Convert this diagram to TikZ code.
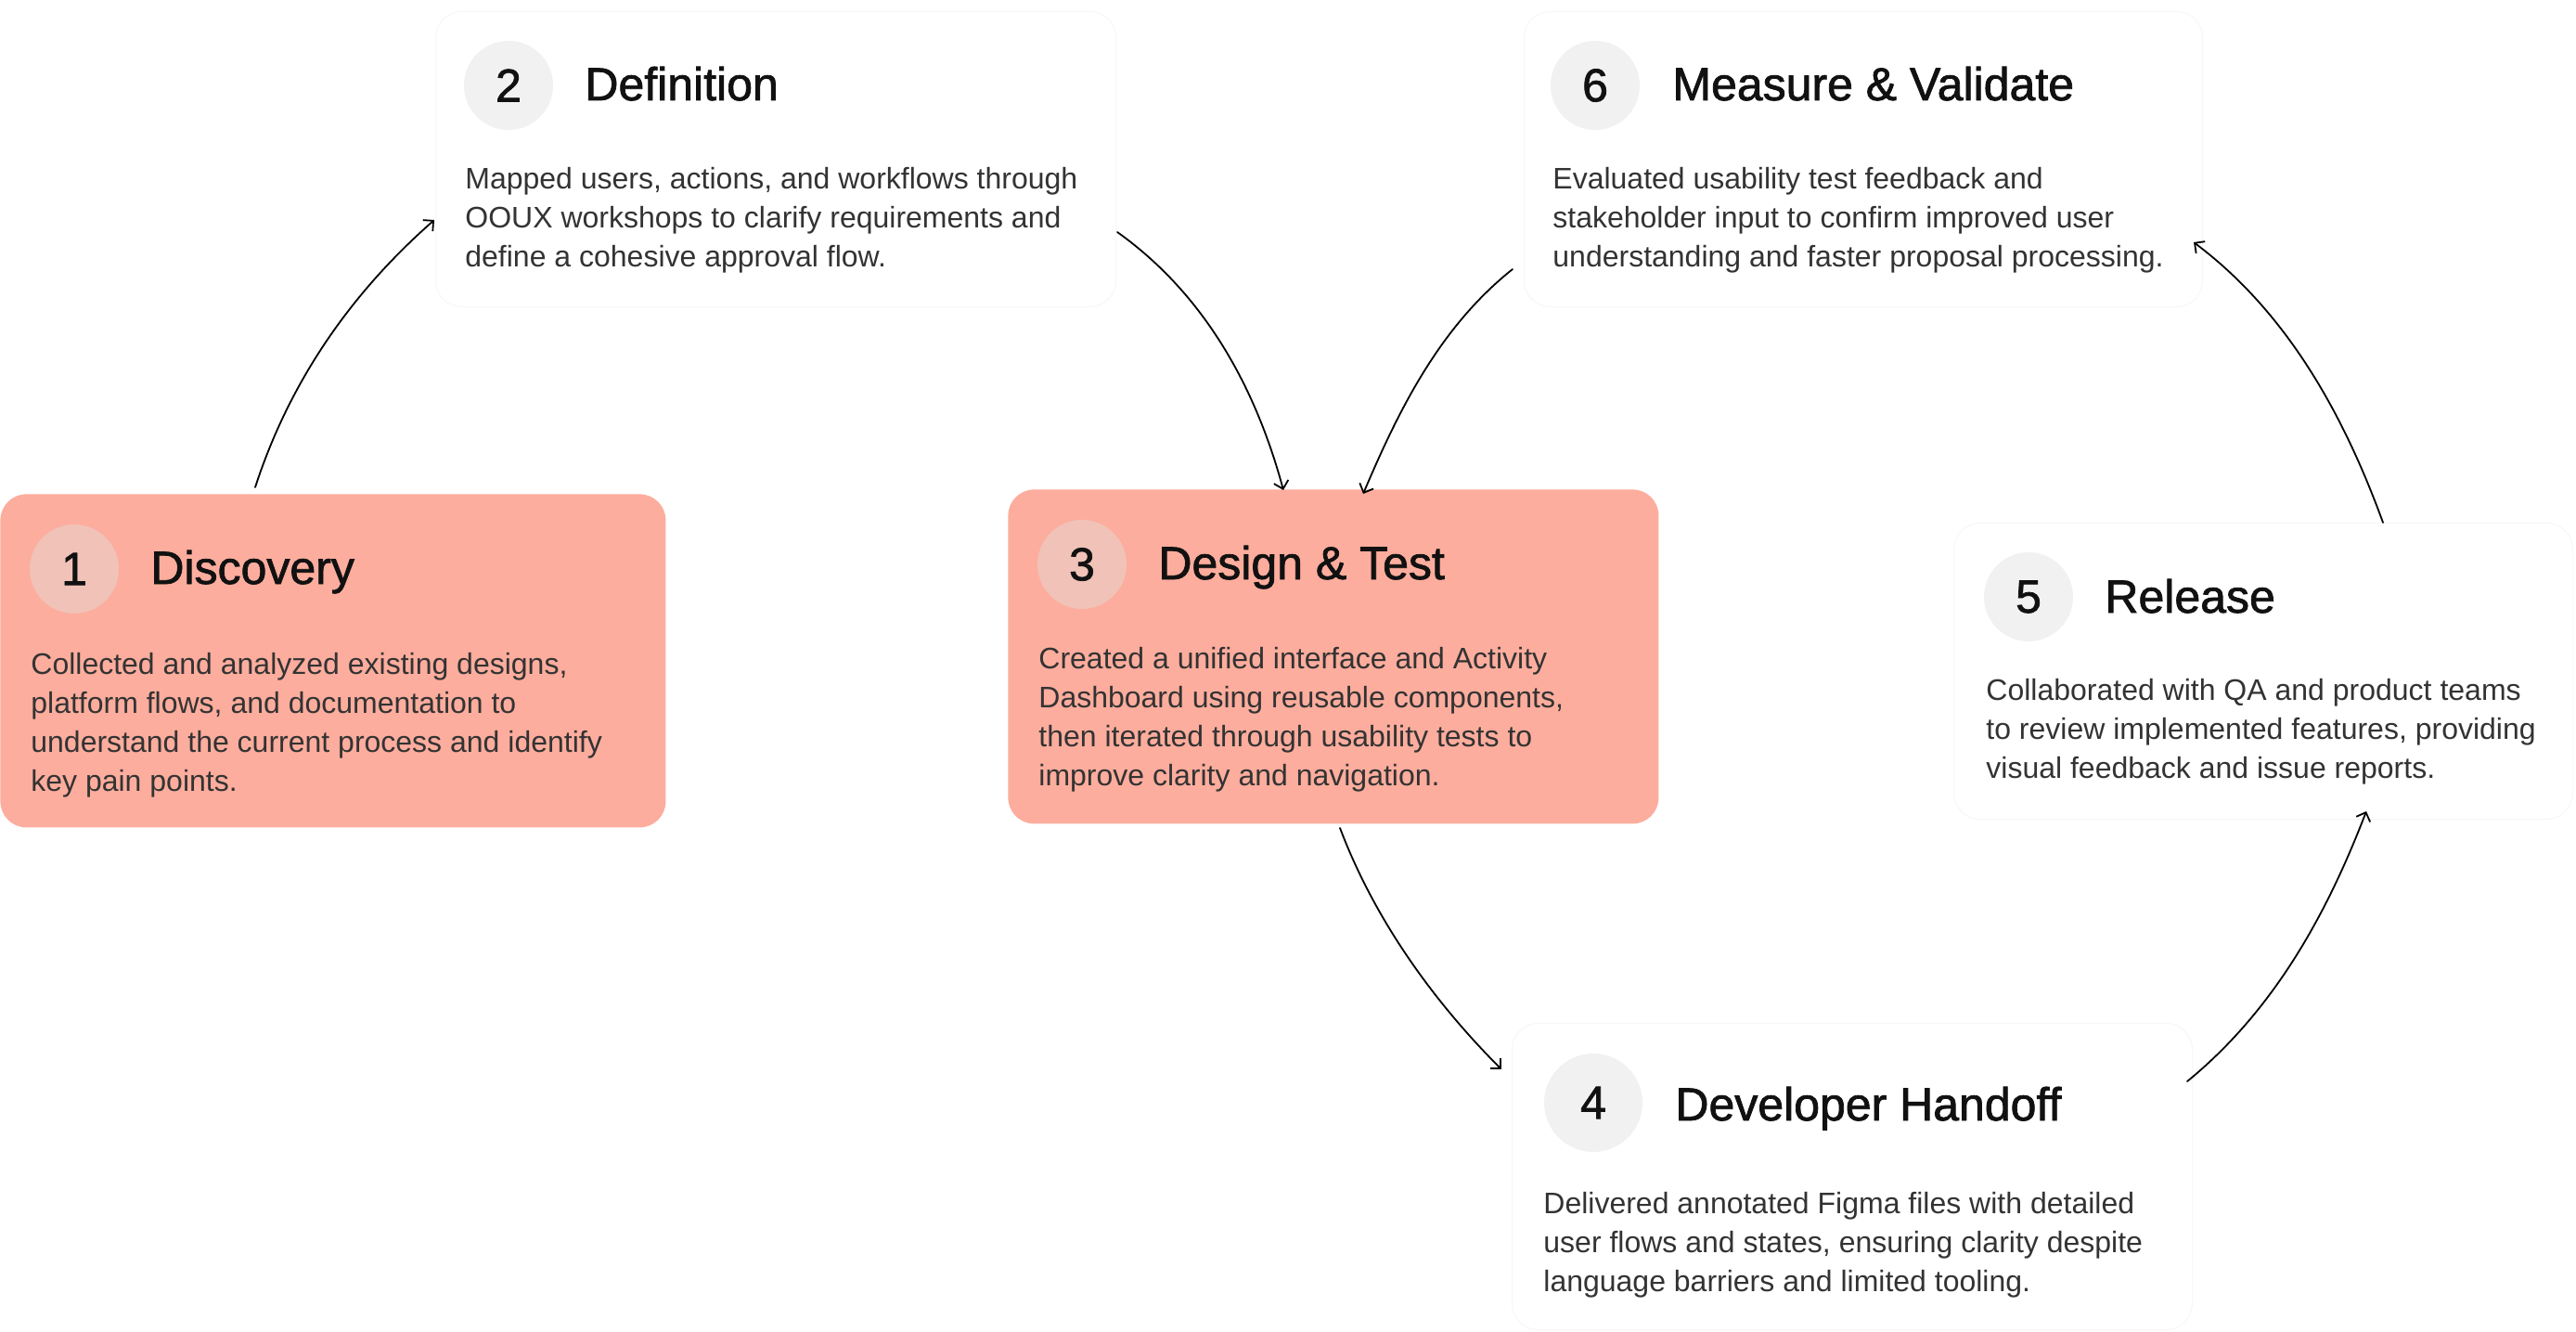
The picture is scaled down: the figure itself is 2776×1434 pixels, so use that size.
\documentclass[tikz,border=0pt]{standalone}
\usepackage{fontspec}
\setmainfont{Liberation Sans}
\newfontfamily\titlefont[FakeBold=1.5]{Liberation Sans}
\usetikzlibrary{arrows.meta}
\definecolor{salmon}{HTML}{FDAD9D}
\definecolor{salmoncirc}{HTML}{F0C2B8}
\definecolor{greycirc}{HTML}{F1F1F1}
\definecolor{titleink}{HTML}{111111}
\definecolor{bodyink}{HTML}{333333}
\definecolor{faint}{HTML}{F7F7F7}
\newcommand\bodyblock[4]{%
  \foreach \ln [count=\k from 0] in {#4} {\node[bodyline] (#1-\k) at (#2,{#3+42*\k}) {\ln};}}
\begin{document}
\begin{tikzpicture}[x=0.5pt,y=-0.5pt,
  hotbox/.style={rectangle, rounded corners=14pt, fill=salmon, draw=none, anchor=north west, inner sep=0pt},
  plainbox/.style={rectangle, rounded corners=14pt, fill=white, draw=faint, line width=0.5pt, anchor=north west, inner sep=0pt},
  hotnum/.style={circle, fill=salmoncirc, minimum size=48pt, inner sep=0pt, text=titleink, font=\titlefont\fontsize{25}{30}\selectfont},
  plainnum/.style={circle, fill=greycirc, minimum size=48pt, inner sep=0pt, text=titleink, font=\titlefont\fontsize{25}{30}\selectfont},
  steptitle/.style={anchor=base west, inner sep=0pt, text=titleink, font=\titlefont\fontsize{25}{30}\selectfont},
  bodyline/.style={anchor=base west, inner sep=0pt, text=bodyink, font=\fontsize{16}{21}\selectfont},
  flow/.style={draw=black, line width=0.9pt, line cap=round, -{Straight Barb[length=4pt,width=8pt]}}
]
\useasboundingbox (0,0) rectangle (2776,1434);
\fill[white] (0,0) rectangle (2776,1434);

% ---- boxes
\node[hotbox, minimum width=358.5pt, minimum height=179.5pt] (box1) at (0,532) {};
\node[plainbox, minimum width=366.5pt, minimum height=159pt] (box2) at (469,12) {};
\node[hotbox, minimum width=350.5pt, minimum height=180pt] (box3) at (1086,527) {};
\node[plainbox, minimum width=366.5pt, minimum height=165pt] (box4) at (1629,1102) {};
\node[plainbox, minimum width=333.5pt, minimum height=159.5pt] (box5) at (2105,563) {};
\node[plainbox, minimum width=365.5pt, minimum height=159pt] (box6) at (1642,12) {};

% ---- box 1
\node[hotnum] (n1) at (80,613) {1};
\node[steptitle] (t1) at (162,629) {Discovery};
\bodyblock{b1}{33}{726}{{Collected and analyzed existing designs,},{platform flows, and documentation to},{understand the current process and identify},{key pain points.}}

% ---- box 2
\node[plainnum] (n2) at (548,92) {2};
\node[steptitle] (t2) at (630,108) {Definition};
\bodyblock{b2}{501}{203}{{Mapped users, actions, and workflows through},{OOUX workshops to clarify requirements and},{define a cohesive approval flow.}}

% ---- box 3
\node[hotnum] (n3) at (1166,608) {3};
\node[steptitle] (t3) at (1248,624) {Design \& Test};
\bodyblock{b3}{1119}{720}{{Created a unified interface and Activity},{Dashboard using reusable components,},{then iterated through usability tests to},{improve clarity and navigation.}}

% ---- box 4
\node[plainnum, minimum size=53pt] (n4) at (1717,1188) {4};
\node[steptitle] (t4) at (1805,1207) {Developer Handoff};
\bodyblock{b4}{1663}{1307}{{Delivered annotated Figma files with detailed},{user flows and states, ensuring clarity despite},{language barriers and limited tooling.}}

% ---- box 5
\node[plainnum] (n5) at (2186,643) {5};
\node[steptitle] (t5) at (2268,660) {Release};
\bodyblock{b5}{2140}{754}{{Collaborated with QA and product teams},{to review implemented features, providing},{visual feedback and issue reports.}}

% ---- box 6
\node[plainnum] (n6) at (1719,92) {6};
\node[steptitle] (t6) at (1802,108) {Measure \& Validate};
\bodyblock{b6}{1673}{203}{{Evaluated usability test feedback and},{stakeholder input to confirm improved user},{understanding and faster proposal processing.}}

% ---- connector end points
\coordinate (a1s) at (275,525);  \coordinate (a1e) at (468,237);
\coordinate (a2s) at (1204,250); \coordinate (a2e) at (1383,528);
\coordinate (a3s) at (1630,290); \coordinate (a3e) at (1469,532);
\coordinate (a4s) at (1444,892); \coordinate (a4e) at (1618,1152);
\coordinate (a5s) at (2357,1165);\coordinate (a5e) at (2550,874);
\coordinate (a6s) at (2568,563); \coordinate (a6e) at (2364,261);

\draw[flow] (a1s) .. controls (312,411) and (378,316) .. (a1e);
\draw[flow] (a2s) .. controls (1298,317) and (1353,417) .. (a2e);
\draw[flow] (a3s) .. controls (1552,352) and (1508,440) .. (a3e);
\draw[flow] (a4s) .. controls (1481,990) and (1544,1078) .. (a4e);
\draw[flow] (a5s) .. controls (2450,1089) and (2507,986) .. (a5e);
\draw[flow] (a6s) .. controls (2525,445) and (2464,336) .. (a6e);
\end{tikzpicture}
\end{document}
